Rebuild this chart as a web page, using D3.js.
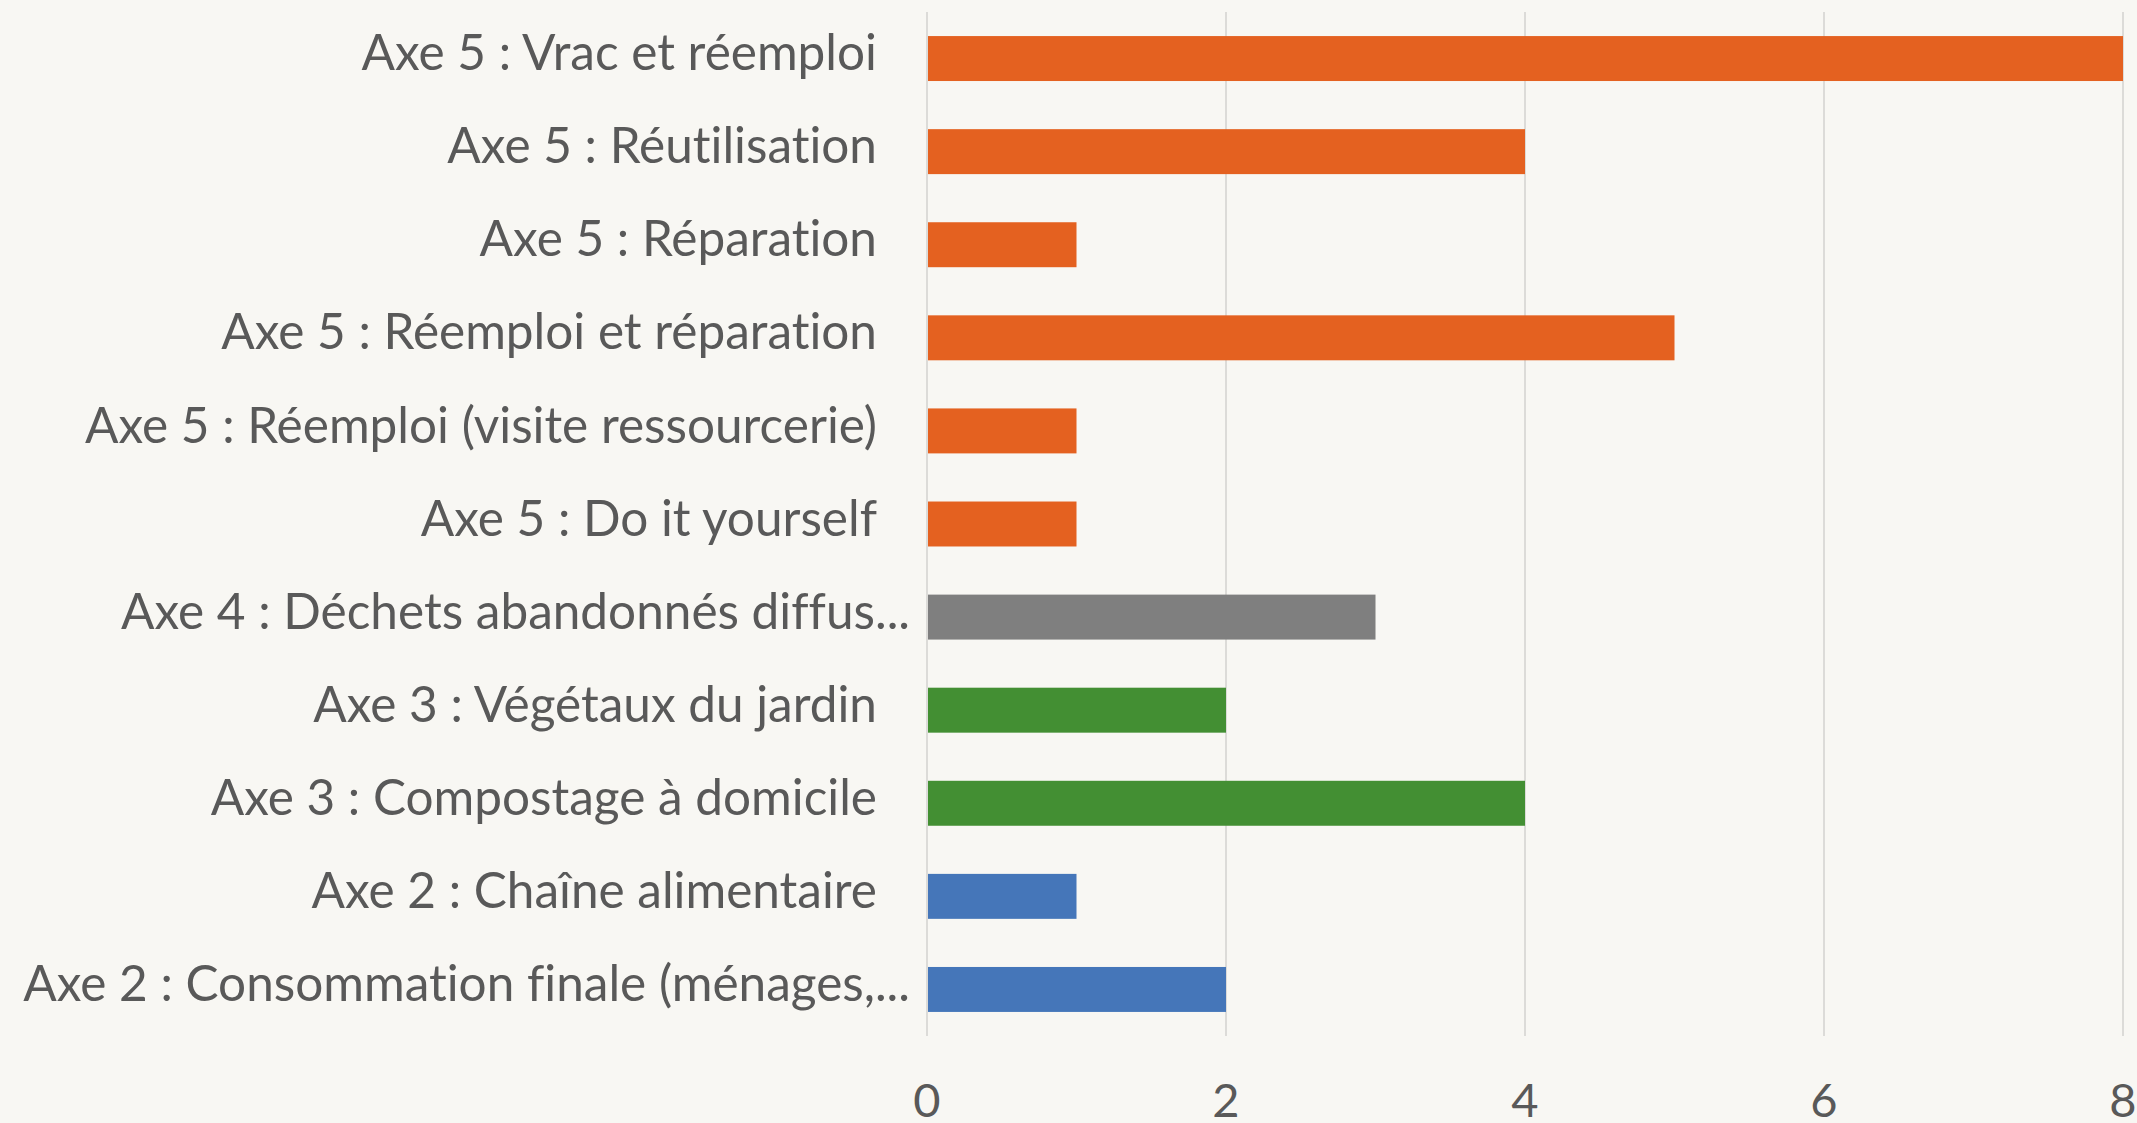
<!DOCTYPE html>
<html>
<head>
<meta charset="utf-8">
<script src="https://cdn.jsdelivr.net/npm/d3@7"></script>
<style>
  html, body { margin: 0; padding: 0; background: #f8f7f3; }
  svg { display: block; }
  text { font-family: Lato, "Open Sans", sans-serif; fill: #595959; font-variant-ligatures: none; }
</style>
</head>
<body>
<div id="chart"></div>
<script>
// categories, top to bottom as shown
var categories = [
    "Axe 5 : Vrac et réemploi",
    "Axe 5 : Réutilisation",
    "Axe 5 : Réparation",
    "Axe 5 : Réemploi et réparation",
    "Axe 5 : Réemploi (visite ressourcerie)",
    "Axe 5 : Do it yourself",
    "Axe 4 : Déchets abandonnés diffus...",
    "Axe 3 : Végétaux du jardin",
    "Axe 3 : Compostage à domicile",
    "Axe 2 : Chaîne alimentaire",
    "Axe 2 : Consommation finale (ménages,..."
];
var values = [8, 4, 1, 5, 1, 1, 3, 2, 4, 1, 2];
var groups = ["Axe 5", "Axe 5", "Axe 5", "Axe 5", "Axe 5", "Axe 5", "Axe 4", "Axe 3", "Axe 3", "Axe 2", "Axe 2"];
var tickValues = [0, 2, 4, 6, 8];

var colorByGroup = {
    "Axe 5": "#e46120",
    "Axe 4": "#7f7f7f",
    "Axe 3": "#438f33",
    "Axe 2": "#4576b9"
};

var width = 2137, height = 1123;
var plot = { left: 927, right: 2123, top: 12, bottom: 1036 };

var svg = d3.select("#chart").append("svg")
    .attr("width", width)
    .attr("height", height);

var x = d3.scaleLinear().domain([0, 8]).range([plot.left, plot.right]);
var y = d3.scaleBand().domain(categories)
    .range([plot.top, plot.bottom])
    .paddingInner(0.517)
    .paddingOuter(0.2585);

//gridlines
svg.append("g").selectAll("line")
    .data(tickValues).enter()
    .append("line")
    .attr("x1", function (d) { return x(d); })
    .attr("x2", function (d) { return x(d); })
    .attr("y1", plot.top)
    .attr("y2", plot.bottom)
    .attr("stroke", "#dcdbd8")
    .attr("stroke-width", 2);

//bars
svg.append("g").selectAll("rect")
    .data(categories).enter()
    .append("rect")
    .attr("x", x(0) + 1)
    .attr("y", function (d) { return y(d); })
    .attr("width", function (d, i) { return x(values[i]) - x(0) - 1; })
    .attr("height", y.bandwidth())
    .attr("fill", function (d, i) { return colorByGroup[groups[i]]; });

//category labels
svg.append("g").selectAll("text")
    .data(categories).enter()
    .append("text")
    .attr("x", function (d) { return d.slice(-3) === "..." ? 910 : 877; })
    .attr("y", function (d) { return y(d) + y.bandwidth() / 2; })
    .attr("dy", "0.235em")
    .attr("text-anchor", "end")
    .style("font-size", "49.5px")
    .text(function (d) { return d; });

//x tick labels
svg.append("g").selectAll("text")
    .data(tickValues).enter()
    .append("text")
    .attr("x", function (d) { return x(d); })
    .attr("y", 1117)
    .attr("text-anchor", "middle")
    .style("font-size", "47px")
    .text(function (d) { return d; });
</script>
</body>
</html>
